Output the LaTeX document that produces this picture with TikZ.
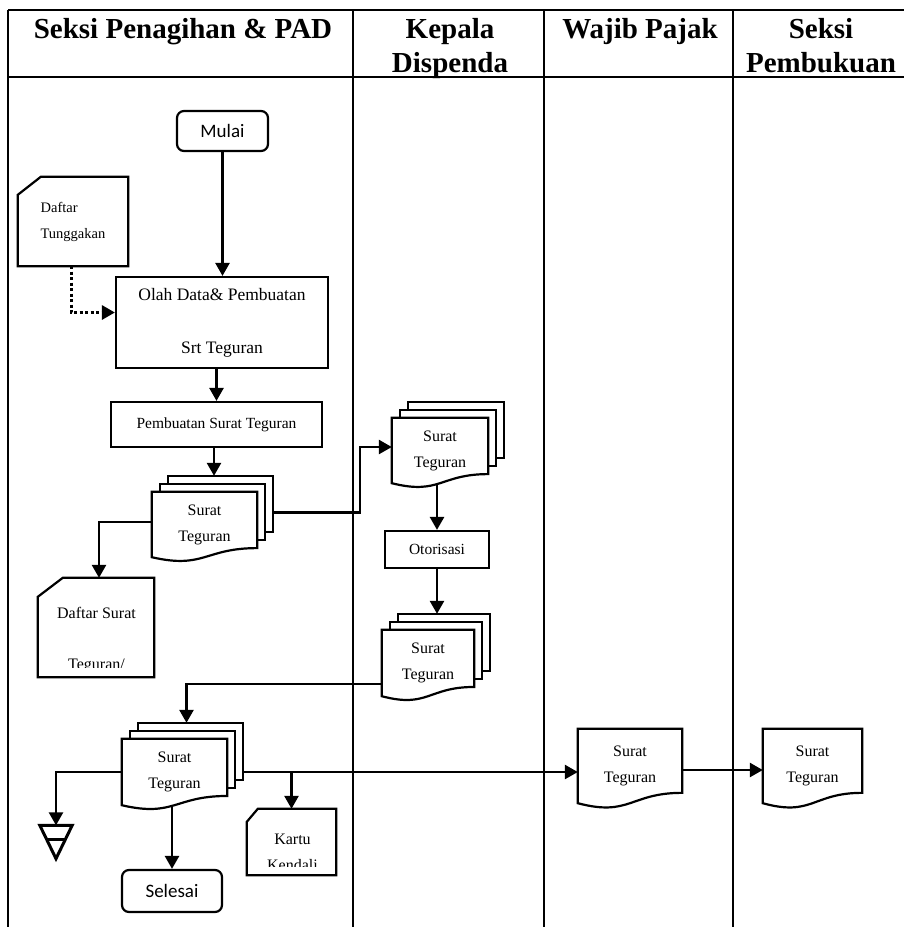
\documentclass[tikz,border=0pt]{standalone}
\usepackage{fontspec}
\setmainfont{Liberation Serif}
\newfontfamily\calfont{Carlito}
\usetikzlibrary{calc,arrows.meta}
\pgfdeclarelayer{bg}\pgfdeclarelayer{mid}\pgfsetlayers{bg,mid,main}
\tikzset{
 ln/.style={line width=2.2pt},
 tbl/.style={line width=1.8pt},
 conn/.style={line width=2.6pt,-{Triangle[length=13pt,width=14pt]}},
 dotline/.style={line width=3pt,dash pattern=on 3pt off 2.5pt},
 boxnode/.style={draw,line width=2.2pt,fill=white,inner sep=0pt,align=center,font=\fontsize{15.5}{19}\selectfont},
 term/.style={boxnode,rounded corners=7pt,font=\calfont\fontsize{19}{23}\selectfont},
 docnode/.style={inner sep=0pt,align=center,font=\fontsize{16}{26}\selectfont},
 cardnode/.style={inner sep=0pt},
 head/.style={font=\bfseries\fontsize{29}{34}\selectfont,align=center,anchor=north,inner sep=0pt},
}
\newcommand\docfront[2]{\path[ln,draw,fill=white] (#1.north west) -- (#1.north east) -- ($(#1.south east)+(0,{-0.14*#2})$) .. controls ($(#1.south)+(0,{-0.14*#2})$) and ($(#1.south)+(0,{0.186*#2})$) .. (#1.south west) -- cycle;}
\newcommand\docback[3]{\path[ln,draw,fill=white] ($(#1.north west)+(#3,-#3)$) rectangle ($(#1.south east)+(#3,{-0.14*#2-#3})$);}
\newcommand\docstack[2]{\docback{#1}{#2}{16}\docback{#1}{#2}{8}\docfront{#1}{#2}}
\newcommand\cardshape[3]{\path[ln,draw,fill=white] ($(#1.north west)+(0,#3)$) -- ($(#1.north west)+(#2,0)$) -- (#1.north east) -- (#1.south east) -- (#1.south west) -- cycle;}
\begin{document}
\begin{tikzpicture}[x=1pt,y=-1pt]
\useasboundingbox (0,0) rectangle (904,927);
% table
\begin{pgfonlayer}{bg}
\fill[white] (0,0) rectangle (904,927);
\draw[tbl] (8,10) -- (904,10);
\draw[tbl] (8,77) -- (904,77);
\draw[tbl] (8,10) -- (8,927);
\draw[tbl] (353,10) -- (353,927);
\draw[tbl] (544,10) -- (544,927);
\draw[tbl] (733,10) -- (733,927);
\end{pgfonlayer}
% headers
\node[head] (h1) at (183,18) {Seksi Penagihan \& PAD};
\node[head] (h2) at (450,18) {Kepala\\Dispenda};
\node[head] (h3) at (640,18) {Wajib Pajak};
\node[head] (h4) at (821,18) {Seksi\\Pembukuan};
% process nodes
\node[term,minimum width=91pt,minimum height=40pt] (mulai) at (222.5,131) {Mulai};
\node[boxnode,minimum width=212pt,minimum height=91pt,font=\fontsize{17.5}{21}\selectfont] (olah) at (222,322.5) {Olah Data\& Pembuatan\\[32pt]Srt Teguran};
\node[boxnode,minimum width=211pt,minimum height=45pt] (buat) at (216.5,424.5) {Pembuatan Surat Teguran};
\node[boxnode,minimum width=104pt,minimum height=37pt] (otor) at (437,549.5) {Otorisasi};
\node[term,minimum width=100pt,minimum height=42pt] (sel) at (172,891) {Selesai};
% documents
\node[docnode,minimum width=105pt,minimum height=65pt] (s1) at (204.5,524.5) {Surat\\Teguran};
\node[docnode,minimum width=96pt,minimum height=65pt] (s2) at (440,450.5) {Surat\\Teguran};
\node[docnode,minimum width=92pt,minimum height=66pt] (s3) at (428,663) {Surat\\Teguran};
\node[docnode,minimum width=105pt,minimum height=66pt] (s4) at (174.5,772) {Surat\\Teguran};
\node[docnode,minimum width=104pt,minimum height=74pt] (wp) at (630,766) {Surat\\Teguran};
\node[docnode,minimum width=99pt,minimum height=74pt] (pb) at (812.5,766) {Surat\\Teguran};
% cards
\node[cardnode,minimum width=110pt,minimum height=89pt,align=left,font=\fontsize{14.5}{26}\selectfont] (dt) at (73,221.5) {Daftar\\Tunggakan};
\node[cardnode,minimum width=116pt,minimum height=99pt] (ds) at (96,627.5) {};
\node[cardnode,minimum width=89pt,minimum height=66pt] (kk) at (291.5,842) {};
\begin{scope}
\clip (ds.north west) rectangle ([yshift=10pt]ds.south east);
\node[docnode,font=\fontsize{16}{51}\selectfont] (dstext) at (96.5,640) {Daftar Surat\\Teguran/};
\end{scope}
\begin{scope}
\clip (kk.north west) rectangle ([yshift=9pt]kk.south east);
\node[docnode,font=\fontsize{16}{26}\selectfont] (kktext) at (292.5,852) {Kartu\\Kendali};
\end{scope}
% storage symbol
\node[inner sep=0pt,minimum width=32pt,minimum height=33pt] (tri) at (56,842) {};
% outlines
\begin{pgfonlayer}{mid}
\docstack{s1}{65}
\docstack{s2}{65}
\docstack{s3}{66}
\docstack{s4}{66}
\docfront{wp}{74}
\docfront{pb}{74}
\cardshape{dt}{23}{18}
\cardshape{ds}{25}{19}
\cardshape{kk}{11}{13}
\draw[line width=3pt,line join=miter] (tri.north west) -- (tri.north east) -- (tri.south) -- cycle;
\draw[line width=3pt] ($(tri.north west)!0.42!(tri.south)$) -- ($(tri.north east)!0.42!(tri.south)$);
\end{pgfonlayer}
% connectors
\begin{pgfonlayer}{bg}
\draw[conn] (mulai.south) -- (mulai.south |- olah.north);
\draw[conn,dotline] ([xshift=-2pt]dt.south) |- ([yshift=10pt]olah.west);
\draw[conn] (buat.north |- olah.south) -- (buat.north);
\coordinate (s1top) at ([yshift=16pt]s1.north);
\draw[conn] ([xshift=-2.5pt]buat.south) -- ([xshift=-2.5pt]buat.south |- s1top);
\draw[conn] ([yshift=2.5pt]s1.west) -| ([xshift=3pt]ds.north);
\draw[conn] ([xshift=16pt,yshift=12pt]s1.east) -| ([xshift=-32pt,yshift=3.5pt]s2.west) -- ([yshift=3.5pt]s2.west);
\draw[conn] (otor.north |- s2.south) -- (otor.north);
\coordinate (s3top) at ([yshift=16pt]s3.north);
\draw[conn] (otor.south) -- (otor.south |- s3top);
\coordinate (s4top) at ([xshift=12pt,yshift=16pt]s4.north);
\draw[conn] ([yshift=-21pt]s3.west) -| (s4top);
\draw[conn] (s4.west) -| (tri.north);
\coordinate (s4r) at ([xshift=16pt]s4.east);
\draw[conn] (s4r) -- (s4r -| wp.west);
\draw[conn] (kk.north |- s4r) -- (kk.north);
\draw[conn] (sel.north |- s4.south) -- (sel.north);
\draw[conn] ([yshift=-4pt]wp.east) -- ([yshift=-4pt]pb.west);
\end{pgfonlayer}
\end{tikzpicture}
\end{document}
